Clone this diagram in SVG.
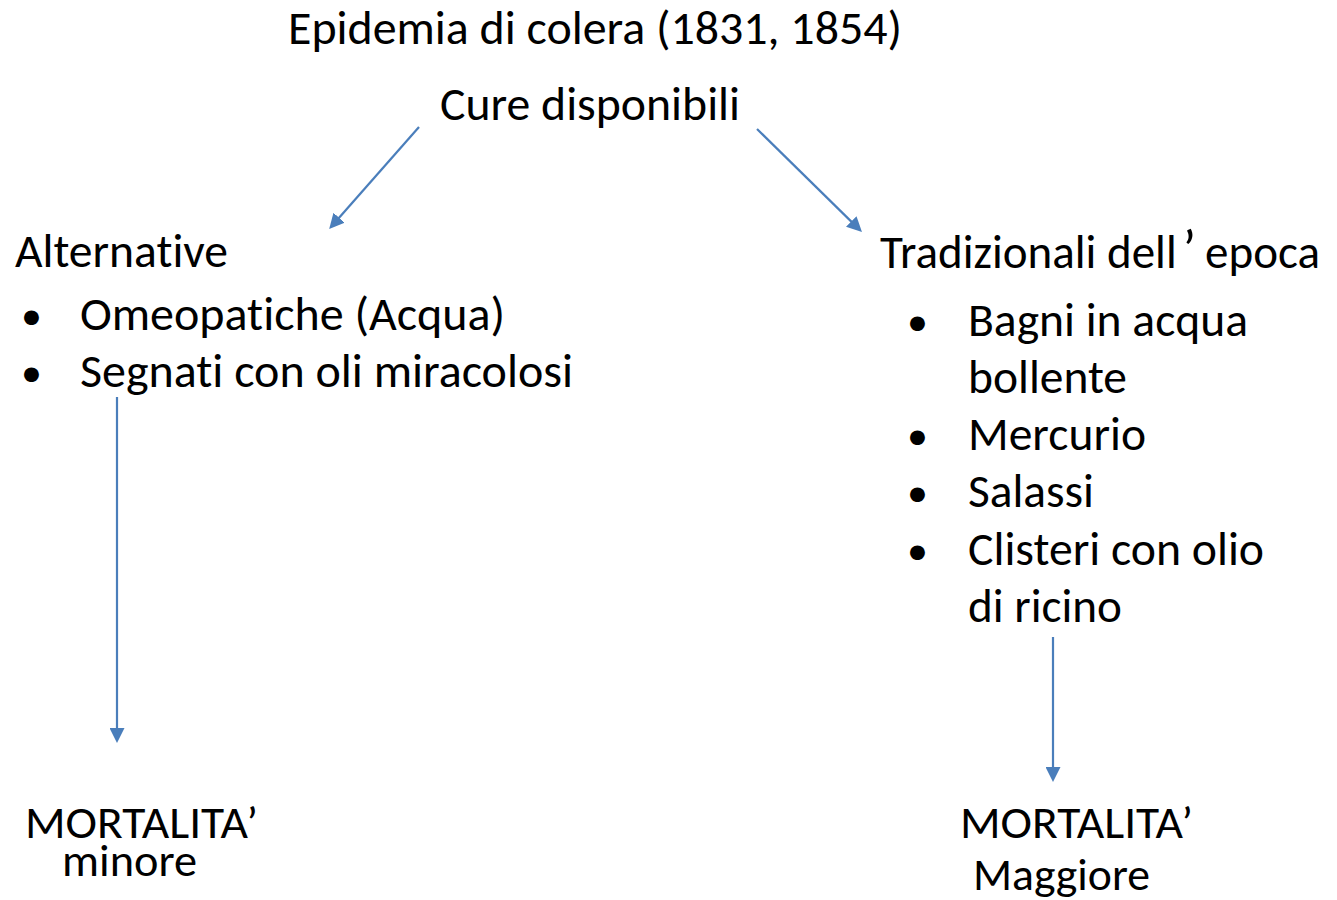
<svg xmlns="http://www.w3.org/2000/svg" width="1337" height="900" viewBox="0 0 1337 900">
<style>
  .t { font-family: Carlito, Calibri, "Open Sans", "Noto Sans", sans-serif; font-size: 48px; fill: #000; font-variant-ligatures: none; }
  .s { font-size: 45px; }
  .b { font-size: 42px; }
  .q { font-size: 56px; }
  .c { stroke: #4a7ebb; stroke-width: 2.2; fill: none; marker-end: url(#ah); }
</style>
<defs>
  <marker id="ah" viewBox="0 0 10 10" refX="2" refY="5" markerWidth="15" markerHeight="15" markerUnits="userSpaceOnUse" orient="auto">
    <path d="M0,0 L10,5 L0,10 z" fill="#4a7ebb"/>
  </marker>
</defs>
<rect width="1337" height="900" fill="#fff"/>
<g id="title"><text class="t" x="288" y="44" textLength="614" lengthAdjust="spacingAndGlyphs">Epidemia di colera (1831, 1854)</text></g>
<g id="cure"><text class="t" x="440" y="120" textLength="300" lengthAdjust="spacingAndGlyphs">Cure disponibili</text></g>
<g id="alternative">
  <text class="t" x="15" y="267" textLength="213" lengthAdjust="spacingAndGlyphs">Alternative</text>
  <text class="t b" x="21" y="329">•</text>
  <text class="t" x="80" y="330" textLength="425" lengthAdjust="spacingAndGlyphs">Omeopatiche (Acqua)</text>
  <text class="t b" x="21" y="386">•</text>
  <text class="t" x="80" y="387" textLength="493" lengthAdjust="spacingAndGlyphs">Segnati con oli miracolosi</text>
</g>
<g id="tradizionali">
  <text class="t" x="880" y="268" textLength="440" lengthAdjust="spacingAndGlyphs">Tradizionali dell<tspan class="q" dx="6">’</tspan><tspan dx="9">epoca</tspan></text>
  <text class="t b" x="907" y="335">•</text>
  <text class="t" x="968" y="336" textLength="280" lengthAdjust="spacingAndGlyphs">Bagni in acqua</text>
  <text class="t" x="968" y="393" textLength="159" lengthAdjust="spacingAndGlyphs">bollente</text>
  <text class="t b" x="907" y="449">•</text>
  <text class="t" x="968" y="450" textLength="178" lengthAdjust="spacingAndGlyphs">Mercurio</text>
  <text class="t b" x="907" y="506">•</text>
  <text class="t" x="968" y="507" textLength="126" lengthAdjust="spacingAndGlyphs">Salassi</text>
  <text class="t b" x="907" y="564">•</text>
  <text class="t" x="968" y="565" textLength="296" lengthAdjust="spacingAndGlyphs">Clisteri con olio</text>
  <text class="t" x="968" y="622" textLength="154" lengthAdjust="spacingAndGlyphs">di ricino</text>
</g>
<g id="mortalita-minore">
  <text class="t s" x="25" y="838" textLength="233" lengthAdjust="spacingAndGlyphs">MORTALITA’</text>
  <text class="t s" x="62" y="876" textLength="135" lengthAdjust="spacingAndGlyphs">minore</text>
</g>
<g id="mortalita-maggiore">
  <text class="t s" x="960" y="838" textLength="233" lengthAdjust="spacingAndGlyphs">MORTALITA’</text>
  <text class="t s" x="973" y="890" textLength="177" lengthAdjust="spacingAndGlyphs">Maggiore</text>
</g>
<g id="connectors">
  <line class="c" x1="419" y1="127" x2="337.1" y2="220"/>
  <line class="c" x1="757" y1="129" x2="853.4" y2="223.6"/>
  <line class="c" x1="117" y1="397" x2="117" y2="731"/>
  <line class="c" x1="1053" y1="637" x2="1053" y2="770"/>
</g>
</svg>
